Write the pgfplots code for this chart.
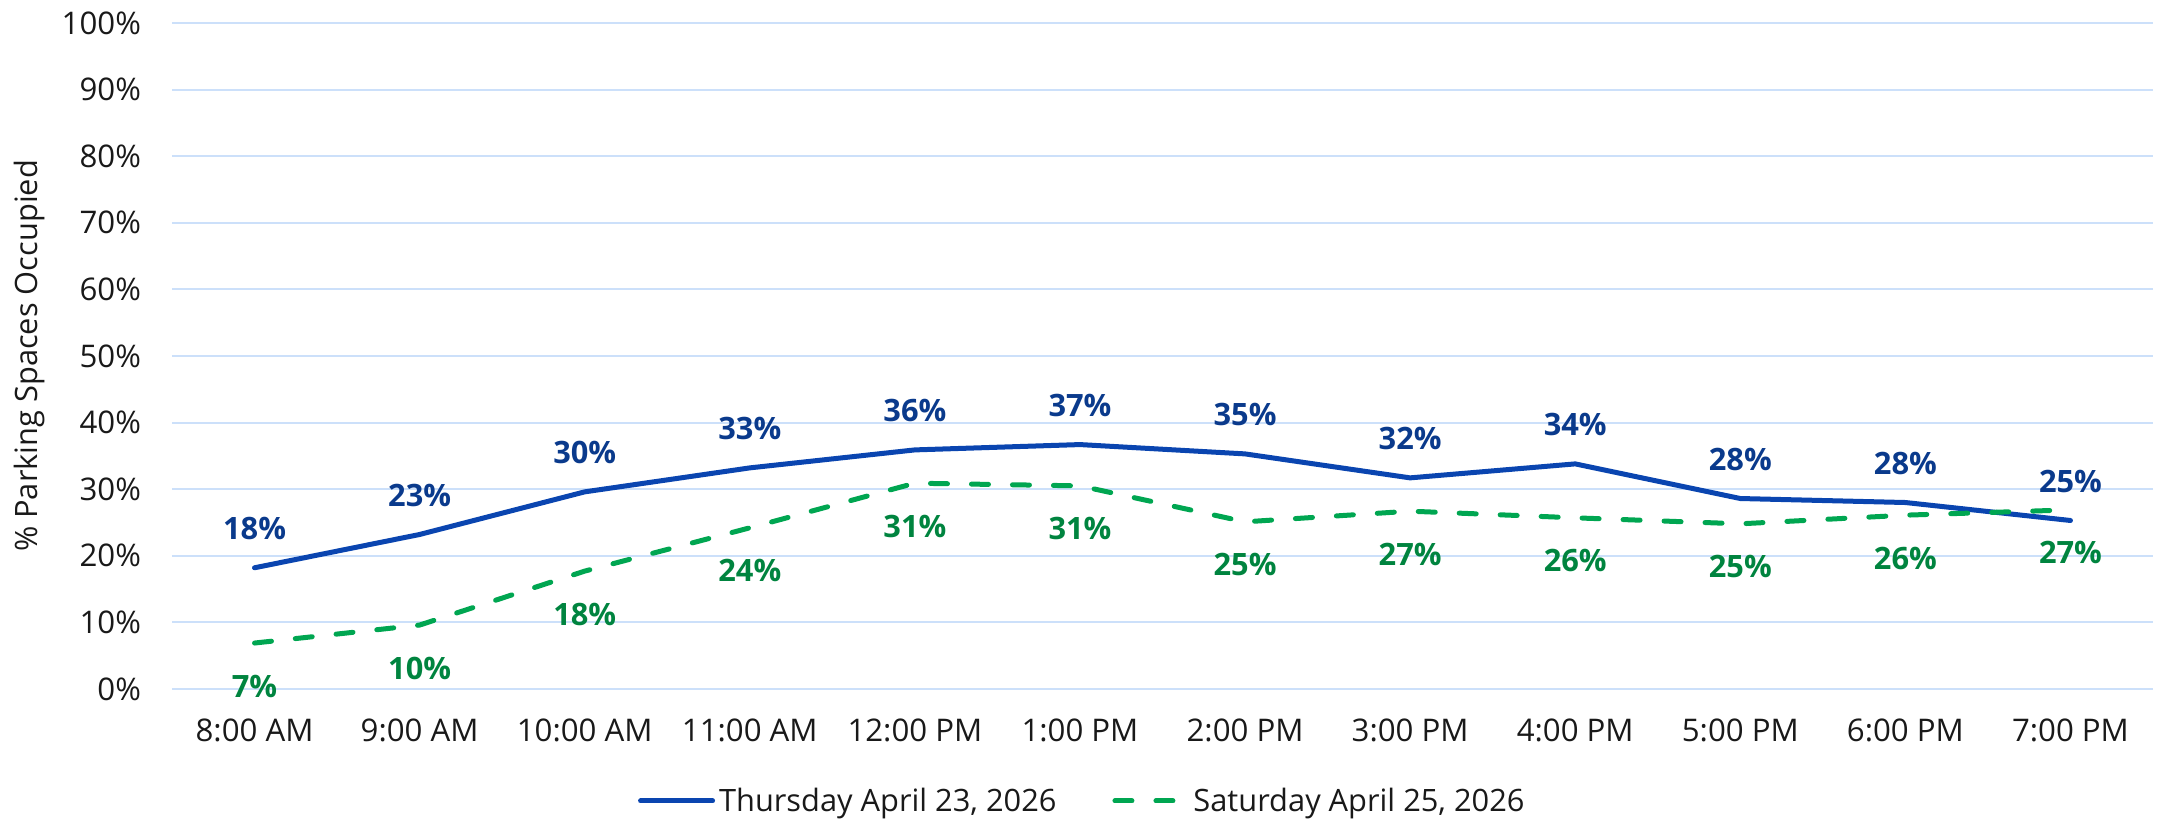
\documentclass[border=0pt]{standalone}
\usepackage{pgfplots}
\pgfplotsset{compat=1.18}
\usepackage{fontspec}
\setmainfont{Open Sans}
\definecolor{thu}{HTML}{0A45B0}
\definecolor{thulab}{HTML}{0A3A8C}
\definecolor{sat}{HTML}{00A651}
\definecolor{satlab}{HTML}{00843F}
\definecolor{gridc}{HTML}{CCE0FA}
\begin{document}
\begin{tikzpicture}
\path[use as bounding box] (-86pt,-67pt) rectangle (1003pt,344.5pt);
\begin{axis}[
  scale only axis, width=990.5pt, height=333pt,
  xmin=-0.5, xmax=11.5, ymin=0, ymax=100,
  xtick={0,...,11},
  xticklabels={8:00 AM,9:00 AM,10:00 AM,11:00 AM,12:00 PM,1:00 PM,2:00 PM,3:00 PM,4:00 PM,5:00 PM,6:00 PM,7:00 PM},
  ytick={0,10,...,100},
  yticklabel={\pgfmathprintnumber{\tick}\%},
  /pgf/number format/assume math mode=true,
  axis line style={draw=none}, major tick length=0pt,
  ymajorgrids, grid style={color=gridc, line width=1pt},
  tick label style={font=\fontsize{15.6}{18}\selectfont, text=black!90},
  yticklabel style={xshift=-12pt},
  xticklabel style={yshift=-11.5pt},
  ylabel={\% Parking Spaces Occupied},
  every axis y label/.style={at={(rel axis cs:0,0.5)}, xshift=-71pt, rotate=90, anchor=center, font=\fontsize{15.4}{18}\selectfont, text=black!90},
  legend style={at={(rel axis cs:0.46,0)}, yshift=-56pt, anchor=center, draw=none, fill=none, legend columns=2,
    font=\fontsize{15.4}{18}\selectfont, text=black!90,
    /tikz/every even column/.append style={column sep=26pt}},
  legend image code/.code={\draw[#1] (0pt,0pt) -- (36pt,0pt);},
  clip=false,
  point meta=explicit symbolic,
  nodes near coords={\pgfplotspointmeta\%},
]
\addplot[color=thu, line width=2.5pt, line join=round, line cap=round,
  every node near coord/.append style={anchor=center, yshift=19.5pt, text=thulab, font=\bfseries\fontsize{15.4}{17}\selectfont}]
coordinates {
(0,18.2) [18]
(1,23.2) [23]
(2,29.6) [30]
(3,33.2) [33]
(4,35.9) [36]
(5,36.7) [37]
(6,35.3) [35]
(7,31.7) [32]
(8,33.8) [34]
(9,28.6) [28]
(10,28.0) [28]
(11,25.3) [25]
};
\addlegendentry{Thursday April 23, 2026}
\addplot[color=sat, line width=2.5pt, line join=round, line cap=round, dash pattern=on 8.5pt off 12pt,
  every node near coord/.append style={anchor=center, yshift=-21.5pt, text=satlab, font=\bfseries\fontsize{15.4}{17}\selectfont}]
coordinates {
(0,6.9) [7]
(1,9.6) [10]
(2,17.7) [18]
(3,24.2) [24]
(4,30.9) [31]
(5,30.5) [31]
(6,25.1) [25]
(7,26.7) [27]
(8,25.7) [26]
(9,24.8) [25]
(10,26.1) [26]
(11,26.9) [27]
};
\addlegendentry{Saturday April 25, 2026}
\end{axis}
\end{tikzpicture}
\end{document}
